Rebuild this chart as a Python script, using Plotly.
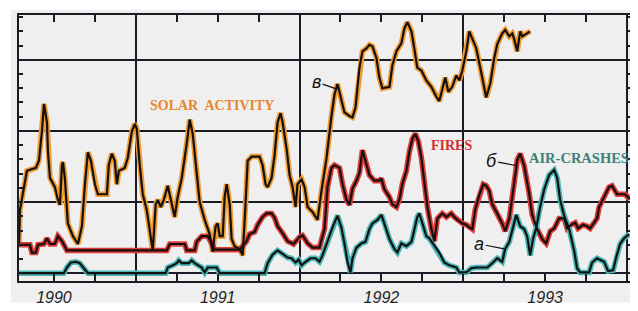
import plotly.graph_objects as go

# x: months since January 1990; y: index units (grid step = 10)
solar_x = [3.44, 3.51, 4.02, 4.46, 4.68, 4.90, 5.12, 5.27, 5.49, 5.56, 5.71, 6.07, 6.29, 6.44, 6.59, 6.66, 6.80,
           7.02, 7.39, 7.76, 8.05, 8.27, 8.49, 8.71, 9.00, 9.22, 9.88, 10.02, 10.24, 10.46, 10.61, 10.76, 11.19,
           11.41, 11.71, 11.93, 12.07, 12.29, 12.51, 12.80, 13.02, 13.24, 13.46, 13.61, 13.83, 14.05, 14.34, 14.63,
           14.85, 15.07, 15.37, 15.73, 15.95, 16.17, 16.46, 16.68, 17.05, 17.41, 17.63, 17.85, 18.00, 18.15, 18.37,
           18.51, 18.66, 18.88, 19.02, 19.24, 19.61, 19.83, 19.98, 20.12, 20.20, 20.49, 21.07, 21.29, 21.51, 21.66,
           21.95, 22.17, 22.39, 22.61, 22.76, 23.05, 23.27, 23.49, 23.71, 23.85, 24.15, 24.37, 24.59, 24.95, 25.32,
           25.61, 25.98, 26.34, 26.56, 26.78, 27.07, 27.29, 27.66, 27.88, 28.10, 28.24, 28.39, 28.61, 28.90, 29.12,
           29.34, 29.63, 29.85, 30.07, 30.59, 30.80, 31.10, 31.46, 31.68, 31.90, 32.20, 32.41, 32.63, 32.93, 33.29,
           33.66, 34.02, 34.24, 34.46, 34.68, 34.90, 35.19, 35.49, 35.71, 35.93, 36.22, 36.44, 36.66, 36.95, 37.24,
           37.54, 37.68, 37.98, 38.27, 38.49, 38.85, 39.07, 39.37, 39.59, 39.73, 39.95, 40.17, 40.32, 40.54, 40.90]
solar_y = [4.2, 8.9, 14.4, 14.7, 14.8, 15.8, 19.9, 23.8, 21.2, 17.1, 13.4, 12.1, 10.3, 9.6, 15.2, 15.6, 13.4,
           7.0, 5.2, 4.1, 6.6, 12.5, 17.0, 15.8, 12.5, 11.1, 11.1, 15.2, 16.8, 15.8, 12.5, 14.4, 14.8,
           16.2, 19.9, 21.0, 20.3, 15.2, 11.1, 8.9, 6.2, 3.2, 9.7, 10.3, 9.3, 10.3, 12.3, 10.0,
           7.9, 10.7, 13.4, 18.2, 21.6, 19.6, 14.4, 10.0, 7.5, 5.5, 3.0, 6.6, 7.0, 5.2, 5.2,
           10.7, 12.5, 9.7, 4.8, 3.8, 3.4, 2.5, 7.5, 12.1, 15.8, 16.4, 16.4, 15.2, 12.5, 12.1,
           13.4, 16.6, 21.2, 22.5, 21.2, 17.5, 13.8, 12.1, 9.3, 12.5, 13.2, 12.1, 9.3, 8.6, 7.5,
           11.6, 16.2, 22.1, 25.1, 26.6, 24.1, 22.6, 22.1, 21.9, 23.3, 25.8, 28.9, 31.2, 31.6, 32.1,
           31.9, 30.3, 27.5, 26.0, 26.2, 29.2, 31.2, 32.3, 34.4, 35.3, 34.0, 31.6, 28.9, 28.5, 27.1,
           26.2, 24.8, 24.2, 25.8, 27.5, 25.5, 26.2, 27.8, 27.1, 28.5, 31.2, 34.0, 33.0, 31.6, 28.9,
           26.2, 24.7, 26.7, 30.3, 32.2, 33.7, 34.2, 33.3, 33.7, 32.9, 31.2, 34.0, 33.3, 33.6, 34.0]

fires_x = [3.44, 4.24, 4.39, 4.68, 4.83, 5.27, 5.49, 5.71, 6.07, 6.29, 6.59, 6.95, 14.27, 14.49, 15.59, 15.73,
           16.32, 16.46, 16.83, 17.27, 17.56, 17.78, 19.61, 19.83, 20.12, 20.34, 20.71, 20.93, 21.29, 21.59, 21.95,
           22.17, 22.39, 22.76, 23.12, 23.56, 24.00, 24.22, 24.59, 24.95, 25.46, 25.68, 25.83, 26.05, 26.34, 26.56,
           26.93, 27.15, 27.44, 27.66, 27.88, 28.17, 28.39, 28.61, 28.90, 29.12, 29.49, 29.85, 30.00, 30.22, 30.59,
           30.80, 31.10, 31.32, 31.54, 31.83, 32.05, 32.27, 32.49, 32.71, 32.93, 33.15, 33.37, 33.66, 33.88, 34.10,
           34.46, 34.76, 35.12, 35.34, 35.56, 35.93, 36.22, 36.44, 36.66, 36.88, 37.17, 37.46, 37.68, 37.90, 38.12,
           38.49, 38.85, 39.07, 39.37, 39.73, 39.95, 40.17, 40.46, 40.83, 41.05, 41.41, 41.78, 42.07, 42.37, 42.66,
           43.02, 43.39, 43.61, 43.90, 44.20, 44.41, 44.78, 45.07, 45.29, 45.59, 45.80, 45.95, 46.32, 46.68, 46.90,
           47.27, 47.63, 47.85, 48.22]
fires_y = [4.0, 4.0, 2.9, 2.9, 4.0, 4.1, 4.9, 4.1, 4.1, 5.2, 4.5, 3.2, 3.2, 4.1, 4.1, 3.2,
           3.2, 4.4, 5.2, 5.2, 4.2, 3.3, 3.3, 3.8, 4.5, 5.5, 5.8, 6.8, 7.9, 8.4, 8.4,
           7.8, 6.6, 5.6, 4.5, 4.1, 5.1, 5.3, 4.2, 3.6, 3.6, 5.2, 6.2, 12.1, 14.8, 15.2,
           14.8, 12.5, 10.3, 9.6, 11.9, 13.0, 14.1, 17.3, 15.2, 13.8, 13.0, 13.0, 13.3, 11.8, 10.7,
           9.7, 9.3, 10.4, 12.6, 14.4, 17.1, 18.9, 19.6, 18.5, 16.2, 12.5, 9.3, 6.2, 4.5, 7.7,
           8.4, 7.9, 8.4, 7.9, 7.5, 7.0, 6.8, 6.4, 6.2, 9.0, 11.0, 12.5, 12.3, 11.6, 9.7,
           8.4, 7.0, 5.9, 7.7, 12.7, 15.9, 16.8, 15.1, 11.2, 8.2, 6.2, 4.8, 4.2, 5.9, 6.3,
           7.7, 7.7, 6.3, 6.8, 7.1, 6.3, 6.8, 6.6, 6.3, 7.1, 7.7, 9.3, 10.7, 12.1, 12.3,
           11.1, 11.1, 11.1, 10.4]

air_x = [3.44, 6.73, 6.95, 7.24, 7.61, 7.90, 8.19, 8.49, 14.19, 14.34, 14.71, 15.00, 15.15, 15.37, 15.88, 16.10,
         16.32, 16.61, 16.83, 17.05, 17.27, 17.93, 18.15, 21.44, 21.66, 22.02, 22.39, 22.76, 23.12, 23.41, 23.71,
         23.93, 24.15, 24.44, 24.81, 25.17, 25.46, 25.68, 26.05, 26.41, 26.78, 27.07, 27.29, 27.51, 27.73, 27.88,
         28.17, 28.54, 28.83, 29.12, 29.34, 29.71, 30.00, 30.22, 30.59, 30.95, 31.17, 31.46, 31.83, 32.20, 32.41,
         32.63, 32.78, 33.00, 33.29, 33.51, 33.88, 34.24, 34.61, 34.98, 35.49, 35.71, 36.22, 36.58, 36.95, 37.76,
         38.12, 38.49, 38.85, 39.07, 39.37, 39.59, 39.88, 40.17, 40.46, 40.68, 40.90, 41.12, 41.34, 41.63, 41.93,
         42.29, 42.66, 42.88, 43.10, 43.39, 43.76, 44.12, 44.34, 44.56, 45.22, 45.44, 45.80, 46.32, 46.61, 46.98,
         47.20, 47.49, 47.78, 48.15]
air_y = [0.0, 0.0, 0.8, 1.5, 1.6, 1.4, 0.7, 0.0, 0.0, 0.8, 1.1, 1.4, 1.8, 1.4, 1.4, 1.8,
         1.4, 1.1, 0.8, 0.1, 0.8, 0.8, 0.0, 0.0, 1.4, 2.6, 3.2, 2.7, 2.2, 2.1, 1.5,
         1.9, 1.1, 1.6, 2.1, 2.1, 1.6, 2.5, 4.5, 6.4, 8.1, 6.4, 4.2, 1.6, 0.1, 2.1,
         3.6, 4.2, 4.4, 6.2, 7.0, 7.5, 8.2, 7.0, 4.8, 3.4, 2.9, 4.2, 3.8, 4.4, 6.2,
         7.9, 8.4, 7.0, 5.2, 4.9, 3.8, 2.9, 1.5, 1.1, 0.8, 0.1, 0.1, 0.7, 0.8, 0.8,
         1.4, 2.1, 1.6, 3.4, 4.4, 6.2, 8.2, 6.6, 6.2, 5.2, 2.5, 4.9, 6.3, 9.3, 11.8,
         13.8, 14.5, 13.4, 10.3, 8.1, 6.2, 3.2, 0.7, 0.1, 0.1, 1.5, 2.1, 1.6, 0.3, 0.4,
         2.2, 4.1, 4.9, 5.5]

year_labels = ["1990", "1991", "1992", "1993"]
year_label_pos = [6, 18, 30, 42]

INK = "#1b1b26"
series = [
    (solar_x, solar_y, "#F29A30"),
    (fires_x, fires_y, "#E03A36"),
    (air_x, air_y, "#4CB6B6"),
]

fig = go.Figure()
for xs, ys, halo in series:
    fig.add_trace(go.Scatter(x=xs, y=ys, mode="lines", line=dict(color=halo, width=5.5),
                             hoverinfo="skip", showlegend=False))
for xs, ys, halo in series:
    fig.add_trace(go.Scatter(x=xs, y=ys, mode="lines", xaxis="x2", line=dict(color="#111111", width=2.2),
                             hoverinfo="skip", showlegend=False))

XR = [3.44, 48.29]
YR = [-1.1, 36.3]

# the page body adds an 8px offset, so the figure is sized/margined to compensate
fig.update_layout(
    width=630, height=303,
    margin=dict(l=11, r=6, t=5, b=25),
    paper_bgcolor="white", plot_bgcolor="rgba(0,0,0,0)",
    showlegend=False,
    xaxis=dict(range=XR, tick0=0, dtick=12, showgrid=True, gridcolor=INK, gridwidth=1.6,
               zeroline=False, showline=True, linecolor=INK, linewidth=2, mirror="allticks",
               ticks="inside", ticklen=7, tickwidth=1.5, tickcolor=INK, showticklabels=False,
               minor=dict(tick0=0, dtick=3, ticks="inside", ticklen=7, tickwidth=1.5, tickcolor=INK,
                          showgrid=False)),
    xaxis2=dict(range=XR, overlaying="x", anchor="y", side="bottom", showgrid=False, zeroline=False,
                showline=False, ticks="", tickmode="array", tickvals=year_label_pos,
                ticktext=["<i>%s</i>" % t for t in year_labels], ticklabelstandoff=5,
                tickfont=dict(family="Liberation Sans", size=16, color="#222222")),
    yaxis=dict(range=YR, tick0=0, dtick=10, showgrid=True, gridcolor=INK, gridwidth=1.6,
               zeroline=False, showline=True, linecolor=INK, linewidth=2, mirror="allticks",
               ticks="inside", ticklen=4, tickwidth=1.5, tickcolor=INK, showticklabels=False,
               minor=dict(tick0=0, dtick=2, ticks="inside", ticklen=4, tickwidth=1.5, tickcolor=INK,
                          showgrid=False)),
    shapes=[dict(type="rect", xref="paper", yref="paper", x0=-0.013, x1=1.005, y0=-0.081, y1=1.02,
                 fillcolor="#EFEFEF", line=dict(width=0), layer="below")],
)

serif = "Liberation Serif"
fig.add_annotation(x=17.56, y=23.6, text="<b>SOLAR\u00a0 ACTIVITY</b>", showarrow=False,
                   font=dict(family=serif, size=14, color="#E8862E"))
fig.add_annotation(x=35.12, y=17.9, text="<b>FIRES</b>", showarrow=False,
                   font=dict(family=serif, size=14, color="#D42E2E"))
fig.add_annotation(x=44.49, y=16.2, text="<b>AIR-CRASHES</b>", showarrow=False,
                   font=dict(family=serif, size=14.5, color="#3F807A"))

for px_, py_, lab, ax_, ay_ in [(26.71, 25.9, "в", -20, -7), (39.95, 15.1, "б", -26, -5),
                               (39.07, 3.4, "а", -26, -5)]:
    fig.add_annotation(x=px_, y=py_, text="<i>%s</i>" % lab, showarrow=True, arrowhead=0,
                       arrowwidth=1.2, arrowcolor="#111111", ax=ax_, ay=ay_, standoff=1,
                       font=dict(family="Liberation Sans", size=18, color="#111111"))

fig.write_html("out.html")
